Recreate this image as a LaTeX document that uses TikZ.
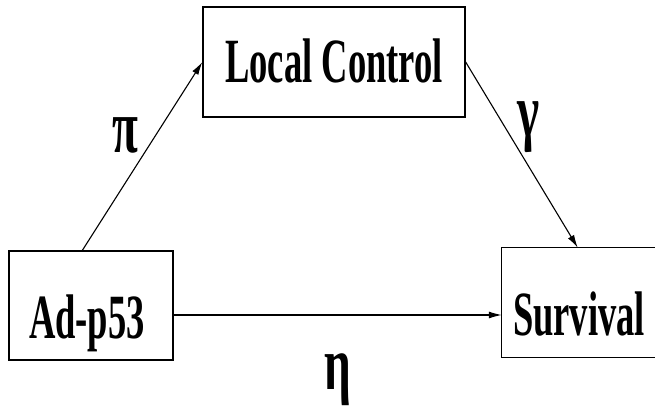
\documentclass[tikz,border=0pt]{standalone}
\usepackage{fontspec}
\usepackage{graphicx}
\setmainfont{Liberation Serif}
\usetikzlibrary{arrows.meta,calc}
\newcommand{\boxtxt}[1]{{\fontsize{63}{63}\selectfont\bfseries\scalebox{0.58}[1]{#1}}}
\newcommand{\grk}[1]{{\fontsize{76}{76}\selectfont\bfseries\scalebox{0.62}[1]{#1}}}
\tikzset{
  varbox/.style={draw, line width=1.3pt, inner sep=0pt, rectangle},
  openbox/.style={inner sep=0pt, rectangle},
  boxline/.style={line width=1.3pt},
  boxlabel/.style={anchor=base, inner sep=0pt},
  greek/.style={inner sep=0pt},
  path/.style={line width=1.1pt, -{Latex[length=13pt,width=7pt]}}
}
\begin{document}
\begin{tikzpicture}[x=1pt,y=-1pt]
\useasboundingbox (0,0) rectangle (655,406);
% boxes
\node[varbox, minimum width=262pt, minimum height=110pt] (lc) at (334,62) {};
\node[varbox, minimum width=164pt, minimum height=109pt] (ad) at (91,305.5) {};
\node[openbox, minimum width=160pt, minimum height=109pt] (sv) at (582,302.5) {};
\draw[boxline] (sv.north east) -- (sv.north west) -- (sv.south west) -- (sv.south east);
% texts
\node[boxlabel] (lct) at (334,83) {\boxtxt{Local Control}};
\node[boxlabel] (adt) at (87,338) {\boxtxt{Ad-p53}};
\node[boxlabel] (svt) at (579,335) {\boxtxt{Survival}};
% connectors
\coordinate (h) at (0,315);
\draw[path] ($(ad.north west)+(74,0)$) -- (lc.west);
\draw[path] (lc.east) -- ($(sv.north west)+(76,0)$);
\draw[path] (ad.east |- h) -- (sv.west |- h);
% labels
\node[greek] (pi) at (125,135) {\grk{π}};
\node[greek] (ga) at (529,127) {\grk{γ}};
\node[greek] (et) at (338,380) {\grk{η}};
\end{tikzpicture}
\end{document}
